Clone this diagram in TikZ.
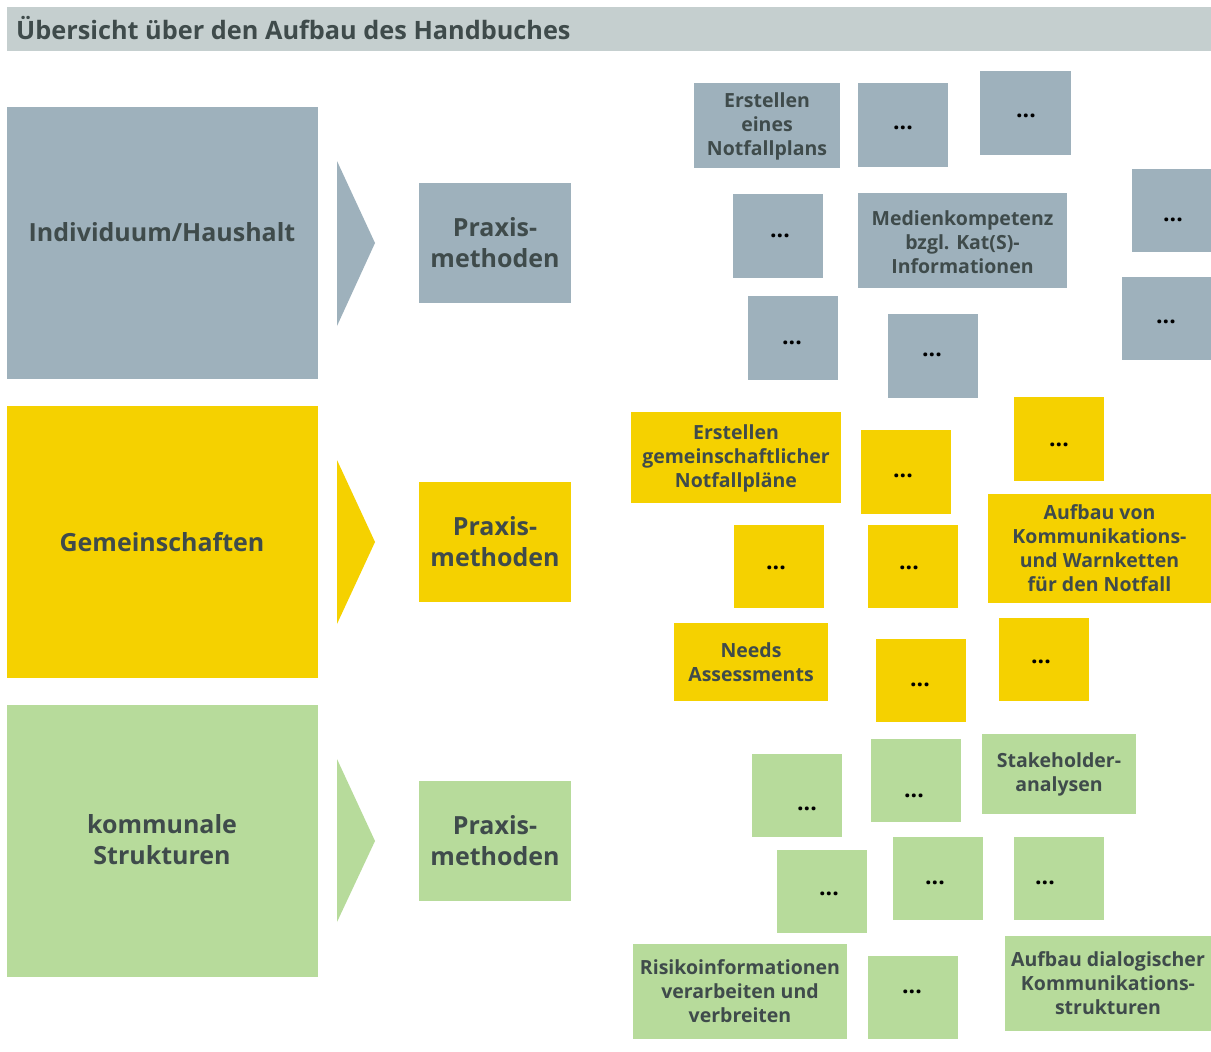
\documentclass[tikz,border=0pt]{standalone}
\usepackage{fontspec}
\setmainfont{Open Sans}
\usetikzlibrary{fit}
\definecolor{hdr}{HTML}{C5CFCF}
\definecolor{grayc}{HTML}{9EB1BC}
\definecolor{yelc}{HTML}{F5D100}
\definecolor{grnc}{HTML}{B7DB9B}
\definecolor{txt}{HTML}{3F4B4B}
\begin{document}
\begin{tikzpicture}[x=1pt,y=-1pt,
  box/.style={rectangle, inner sep=0pt},
  gbox/.style={box, fill=grayc},
  ybox/.style={box, fill=yelc},
  nbox/.style={box, fill=grnc},
  lbl/.style={inner sep=0pt, align=center, text=txt,
    font=\bfseries\fontsize{19.5}{24}\selectfont},
  bigtxt/.style={lbl, font=\bfseries\fontsize{25}{31}\selectfont},
  praxtxt/.style={lbl, font=\bfseries\fontsize{25}{31}\selectfont},
  dots/.style={inner sep=0pt, text=black, font=\bfseries\fontsize{23}{26}\selectfont}
]
\useasboundingbox[fill=white] (0,0) rectangle (1211,1052);
% header
\node[box, fill=hdr, fit={(7,7) (1211,51)}] (hdr) {};
\node[anchor=west, inner sep=0pt, text=txt, font=\bfseries\fontsize{25.3}{30}\selectfont] (title) at (16,28) {Übersicht über den Aufbau des Handbuches};
% big boxes
\node[gbox, fit={(7,107) (318,379)}] (ind) {};
\node[bigtxt] (indt) at (162,232) {Individuum/Haushalt};
\node[ybox, fit={(7,406) (318,678)}] (gem) {};
\node[bigtxt] (gemt) at (162,542) {Gemeinschaften};
\node[nbox, fit={(7,705) (318,977)}] (kom) {};
\node[bigtxt] (komt) at (162,840) {kommunale\\Strukturen};
% chevrons
\fill[grayc] (337,161) -- (375,243) -- (337,326) -- cycle;
\fill[yelc] (337,460) -- (375,542) -- (337,624) -- cycle;
\fill[grnc] (337,759) -- (375,841) -- (337,922) -- cycle;
% praxis boxes
\node[gbox, fit={(419,183) (571,303)}] (p1) {};
\node[praxtxt] (p1t) at (p1.center) {Praxis-\\methoden};
\node[ybox, fit={(419,482) (571,602)}] (p2) {};
\node[praxtxt] (p2t) at (p2.center) {Praxis-\\methoden};
\node[nbox, fit={(419,781) (571,901)}] (p3) {};
\node[praxtxt] (p3t) at (p3.center) {Praxis-\\methoden};
% gray small boxes
\node[gbox, fit={(694,83) (840,168)}] (ga) {};
\node[lbl] (gat) at ([yshift=-1]ga.center) {Erstellen\\eines\\Notfallplans};
\node[gbox, fit={(858,83) (948,167)}] (gb) {};
\node[dots] (gbt) at (903,128) {...};
\node[gbox, fit={(980,71) (1071,155)}] (gc) {};
\node[dots] (gct) at (1026,116) {...};
\node[gbox, fit={(1132,169) (1211,252)}] (gd) {};
\node[dots] (gdt) at (1173,220) {...};
\node[gbox, fit={(733,194) (823,278)}] (gf) {};
\node[dots] (gft) at (780,236) {...};
\node[gbox, fit={(858,193) (1067,288)}] (gm) {};
\node[lbl] (gmt) at ([yshift=-2]gm.center) {Medienkompetenz\\bzgl. Kat(S)-\\Informationen};
\node[gbox, fit={(748,296) (838,380)}] (gg) {};
\node[dots] (ggt) at (792,343) {...};
\node[gbox, fit={(888,314) (978,398)}] (gh) {};
\node[dots] (ght) at (932,355) {...};
\node[gbox, fit={(1122,277) (1211,360)}] (ge) {};
\node[dots] (get) at (1166,322) {...};
% yellow small boxes
\node[ybox, fit={(631,412) (841,503)}] (ya) {};
\node[lbl] (yat) at ([yshift=-1]ya.center) {Erstellen\\gemeinschaftlicher\\Notfallpläne};
\node[ybox, fit={(861,430) (951,514)}] (yb) {};
\node[dots] (ybt) at (903,476) {...};
\node[ybox, fit={(1014,397) (1104,481)}] (yc) {};
\node[dots] (yct) at (1059,445) {...};
\node[ybox, fit={(988,494) (1211,603)}] (yk) {};
\node[lbl] (ykt) at (yk.center) {Aufbau von\\Kommunikations-\\und Warnketten\\für den Notfall};
\node[ybox, fit={(734,525) (824,608)}] (yd) {};
\node[dots] (ydt) at (776,568) {...};
\node[ybox, fit={(868,525) (958,608)}] (ye) {};
\node[dots] (yet) at (909,568) {...};
\node[ybox, fit={(674,623) (828,701)}] (yn) {};
\node[lbl] (ynt) at (yn.center) {Needs\\Assessments};
\node[ybox, fit={(876,639) (966,722)}] (yf) {};
\node[dots] (yft) at (920,685) {...};
\node[ybox, fit={(999,618) (1089,701)}] (yg) {};
\node[dots] (ygt) at (1041,662) {...};
% green small boxes
\node[nbox, fit={(752,754) (842,837)}] (na) {};
\node[dots] (nat) at (807,809) {...};
\node[nbox, fit={(871,739) (961,822)}] (nb) {};
\node[dots] (nbt) at (914,796) {...};
\node[nbox, fit={(982,734) (1136,814)}] (ns) {};
\node[lbl] (nst) at (ns.center) {Stakeholder-\\analysen};
\node[nbox, fit={(777,850) (867,933)}] (nc) {};
\node[dots] (nct) at (829,894) {...};
\node[nbox, fit={(893,837) (983,920)}] (nd) {};
\node[dots] (ndt) at (935,883) {...};
\node[nbox, fit={(1014,837) (1104,920)}] (ne) {};
\node[dots] (net) at (1045,883) {...};
\node[nbox, fit={(633,944) (847,1039)}] (nr) {};
\node[lbl] (nrt) at (nr.center) {Risikoinformationen\\verarbeiten und\\verbreiten};
\node[nbox, fit={(868,956) (958,1039)}] (nf) {};
\node[dots] (nft) at (912,992) {...};
\node[nbox, fit={(1005,936) (1211,1031)}] (nk) {};
\node[lbl] (nkt) at (nk.center) {Aufbau dialogischer\\Kommunikations-\\strukturen};
\end{tikzpicture}
\end{document}
